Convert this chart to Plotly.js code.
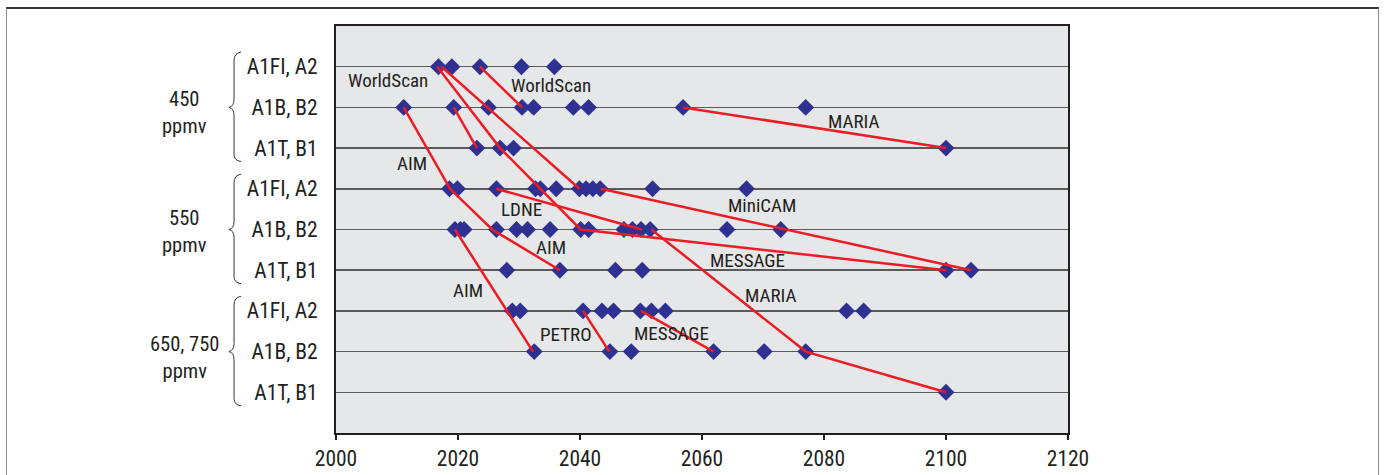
<!DOCTYPE html>
<html>
<head>
<meta charset="utf-8">
<script src="https://cdn.plot.ly/plotly-3.0.1.min.js"></script>
<style>
  html, body { margin: 0; padding: 0; background: #ffffff; }
  #wrap { position: relative; width: 1385px; height: 475px; overflow: hidden; }
  #chart { position: absolute; left: 0; top: 0; width: 1385px; height: 475px; }
  #frame { position: absolute; left: 6px; top: 7px; width: 1371px; height: 490px;
           border-top: 2px solid #333; border-left: 1px solid #8a8a8a; border-right: 1px solid #8a8a8a;
           pointer-events: none; }
</style>
</head>
<body>
<div id="wrap">
  <div id="chart"></div>
  <div id="frame"></div>
</div>
<script>
// ---- categories (rows, top to bottom) ----
const rowLabels = ["A1FI, A2", "A1B, B2", "A1T, B1",
                   "A1FI, A2", "A1B, B2", "A1T, B1",
                   "A1FI, A2", "A1B, B2", "A1T, B1"];
const rowValues = [9, 8, 7, 6, 5, 4, 3, 2, 1];
const groupLabels = ["450<br>ppmv", "550<br>ppmv", "650, 750<br>ppmv"];
const groupCenters = [8, 5, 2];
const groupTextY = [7.87, 4.96, 1.85];

// ---- stabilization years per row (diamonds) ----
const yr450_A1FI = [2016.8, 2019.0, 2023.6, 2030.4, 2035.8];
const yr450_A1B  = [2011.1, 2019.3, 2025.0, 2030.5, 2032.4, 2038.9, 2041.4, 2056.9, 2077.0];
const yr450_A1T  = [2023.1, 2026.9, 2029.1, 2100.0];
const yr550_A1FI = [2018.6, 2019.9, 2026.3, 2032.7, 2033.5, 2036.1, 2039.9, 2041.0, 2042.1, 2043.3, 2051.9, 2067.3];
const yr550_A1B  = [2019.5, 2020.4, 2021.0, 2026.3, 2029.6, 2031.4, 2035.1, 2040.1, 2041.4, 2047.2, 2048.6, 2050.0, 2051.5, 2064.1, 2072.9];
const yr550_A1T  = [2028.0, 2036.7, 2045.8, 2050.2, 2100.0, 2104.1];
const yr650_A1FI = [2028.9, 2030.2, 2040.5, 2043.6, 2045.5, 2049.9, 2051.7, 2054.0, 2083.7, 2086.5];
const yr650_A1B  = [2032.5, 2044.9, 2048.4, 2061.9, 2070.2, 2077.0];
const yr650_A1T  = [2100.0];
const rowYears = [yr450_A1FI, yr450_A1B, yr450_A1T, yr550_A1FI, yr550_A1B, yr550_A1T, yr650_A1FI, yr650_A1B, yr650_A1T];

// ---- model trajectories (red lines): years and row values ----
const worldScanA_x = [2023.6, 2030.5];          const worldScanA_y = [9, 8];
const worldScanB_x = [2019.3, 2023.1];          const worldScanB_y = [8, 7];
const maria450_x   = [2056.9, 2100.0];          const maria450_y   = [8, 7];
const aimA_x       = [2011.1, 2018.7, 2025.6, 2036.7]; const aimA_y = [8, 6, 5, 4];
const aimB_x       = [2019.5, 2032.3];          const aimB_y       = [5, 2];
const messageA_x   = [2016.6, 2026.9, 2040.1, 2100.0]; const messageA_y = [9, 7, 5, 4];
const miniCamA_x   = [2017.3, 2039.9];          const miniCamA_y   = [9, 6];
const miniCamB_x   = [2043.4, 2104.1];          const miniCamB_y   = [6, 4];
const ldne_x       = [2026.3, 2050.1];          const ldne_y       = [6, 5];
const maria650_x   = [2051.7, 2077.0, 2100.0];  const maria650_y   = [5, 2, 1];
const petro_x      = [2040.5, 2044.8];          const petro_y      = [3, 2];
const message650_x = [2050.0, 2061.9];          const message650_y = [3, 2];
const pathsX = [worldScanA_x, worldScanB_x, maria450_x, aimA_x, aimB_x, messageA_x, miniCamA_x, miniCamB_x, ldne_x, maria650_x, petro_x, message650_x];
const pathsY = [worldScanA_y, worldScanB_y, maria450_y, aimA_y, aimB_y, messageA_y, miniCamA_y, miniCamB_y, ldne_y, maria650_y, petro_y, message650_y];

// ---- model name labels (year, row position) ----
const modelNames = ["WorldScan", "WorldScan", "MARIA", "AIM", "LDNE", "AIM", "MiniCAM", "MESSAGE", "AIM", "MARIA", "PETRO", "MESSAGE"];
const nameYear   = [2008.5, 2035.2, 2084.9, 2012.5, 2030.4, 2035.3, 2069.8, 2067.5, 2021.6, 2071.3, 2037.7, 2055.0];
const nameRow    = [8.66, 8.53, 7.65, 6.62, 5.48, 4.56, 5.58, 4.23, 3.51, 3.39, 2.41, 2.45];

// ---- x axis ticks ----
const xTicks = [2000, 2020, 2040, 2060, 2080, 2100, 2120];

const FONT = '"Liberation Sans Narrow", "Roboto Condensed", "Arial Narrow", "DejaVu Sans Condensed", sans-serif';
const TXT = '#231f20';

const mx = [], my = [];
rowYears.forEach((arr, i) => arr.forEach(v => { mx.push(v); my.push(rowValues[i]); }));

const traces = [{
  type: 'scatter', mode: 'markers', x: mx, y: my, hoverinfo: 'skip', showlegend: false,
  marker: { symbol: 'diamond', size: 13, color: '#2e3192', line: { width: 0 } }
}];
pathsX.forEach((px, i) => traces.push({
  type: 'scatter', mode: 'lines', x: px, y: pathsY[i], hoverinfo: 'skip', showlegend: false,
  line: { color: '#ed1c24', width: 2.5 }
}));

const annotations = modelNames.map((t, i) => ({
  text: t, x: nameYear[i], y: nameRow[i], xref: 'x', yref: 'y', showarrow: false,
  xanchor: 'center', yanchor: 'middle', font: { family: FONT, size: 19, color: TXT }
}));
groupLabels.forEach((t, i) => annotations.push({
  text: t, x: -0.2063, y: groupTextY[i], xref: 'paper', yref: 'y', showarrow: false,
  xanchor: 'center', yanchor: 'middle', align: 'center', font: { family: FONT, size: 20.5, color: TXT }
}));

const xt = -0.1298, xb = -0.1393, xc = -0.1462;
const shapes = groupCenters.map(c => ({
  type: 'path', xref: 'paper', yref: 'y', line: { color: '#333', width: 1 },
  path: `M ${xt},${c + 1.36} Q ${xb},${c + 1.33} ${xb},${c + 1.15} L ${xb},${c + 0.2} Q ${xb},${c + 0.03} ${xc},${c} ` +
        `Q ${xb},${c - 0.03} ${xb},${c - 0.2} L ${xb},${c - 1.15} Q ${xb},${c - 1.31} ${xt},${c - 1.33}`
}));

const layout = {
  width: 1385, height: 475,
  margin: { l: 336, r: 317, t: 26, b: 42, pad: 0 },
  paper_bgcolor: '#ffffff', plot_bgcolor: '#e6e7e8',
  showlegend: false,
  font: { family: FONT, size: 21, color: TXT },
  xaxis: {
    range: [2000, 2120], tickvals: xTicks, ticktext: xTicks.map(String),
    showgrid: false, zeroline: false,
    showline: true, linecolor: '#231f20', linewidth: 2, mirror: true,
    ticks: 'outside', ticklen: 5, tickwidth: 1.5, tickcolor: '#231f20',
    tickfont: { family: FONT, size: 21.5, color: TXT }
  },
  yaxis: {
    range: [0, 10], tickvals: rowValues, ticktext: rowLabels,
    showgrid: true, gridcolor: '#5a5a5a', gridwidth: 1.5, zeroline: false,
    showline: true, linecolor: '#231f20', linewidth: 2, mirror: true,
    ticks: '', ticklabelstandoff: 12,
    tickfont: { family: FONT, size: 21.5, color: TXT }
  },
  annotations: annotations,
  shapes: shapes
};

Plotly.newPlot('chart', traces, layout, { staticPlot: true, displayModeBar: false });
</script>
</body>
</html>
